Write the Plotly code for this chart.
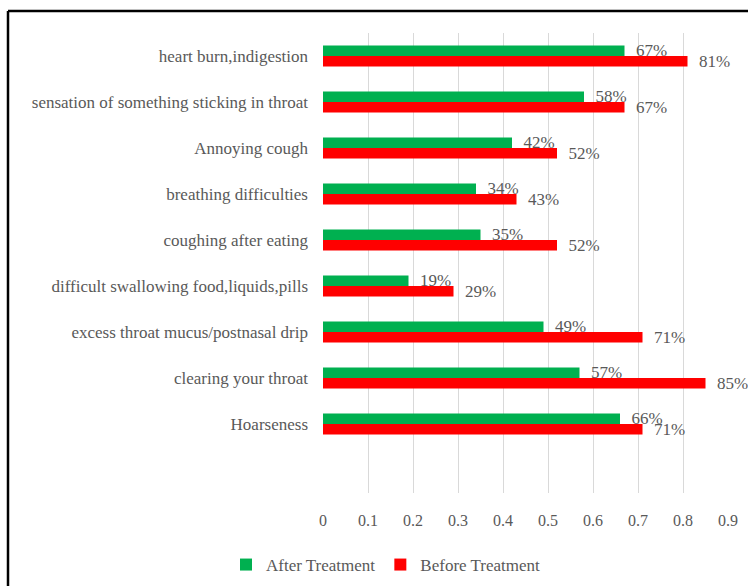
import plotly.graph_objects as go

# Symptom categories, listed top to bottom
symptoms = [
    "heart burn,indigestion",
    "sensation of something sticking in throat",
    "Annoying cough",
    "breathing difficulties",
    "coughing after eating",
    "difficult swallowing food,liquids,pills",
    "excess throat mucus/postnasal drip",
    "clearing your throat",
    "Hoarseness",
]
after_treatment = [0.67, 0.58, 0.42, 0.34, 0.35, 0.19, 0.49, 0.57, 0.66]
before_treatment = [0.81, 0.67, 0.52, 0.43, 0.52, 0.29, 0.71, 0.85, 0.71]
x_ticks = [0, 0.1, 0.2, 0.3, 0.4, 0.5, 0.6, 0.7, 0.8, 0.9]

GREEN = "#00B050"
RED = "#FF0000"
TEXT = "#595959"
FONT = "Liberation Serif"

W, H = 748, 586
ML, MR, MT, MB = 323, 20, 33, 93
PW, PH = W - ML - MR, H - MT - MB


def pct(values):
    return ["\u00a0\u00a0" + f"{round(v * 100)}%" for v in values]


def px_to_paper_x(px):
    return (px - ML) / PW


def px_to_paper_y(py):
    return (H - MB - py) / PH


fig = go.Figure()
fig.add_trace(go.Bar(
    name="After Treatment", y=symptoms, x=after_treatment, orientation="h",
    marker=dict(color=GREEN, line=dict(width=0)),
    text=pct(after_treatment), textposition="outside", constraintext="none",
    cliponaxis=False, textfont=dict(family=FONT, size=17, color=TEXT),
))
fig.add_trace(go.Bar(
    name="Before Treatment", y=symptoms, x=before_treatment, orientation="h",
    marker=dict(color=RED, line=dict(width=0)),
    text=pct(before_treatment), textposition="outside", constraintext="none",
    cliponaxis=False, textfont=dict(family=FONT, size=17, color=TEXT),
))

# Outer frame of the chart area (top and left edges)
frame_x = px_to_paper_x(8)
frame_y = px_to_paper_y(11)
fig.add_shape(type="line", xref="paper", yref="paper",
              x0=frame_x, x1=px_to_paper_x(W + 20), y0=frame_y, y1=frame_y,
              line=dict(color="black", width=2.5))
fig.add_shape(type="line", xref="paper", yref="paper",
              x0=frame_x, x1=frame_x, y0=frame_y, y1=px_to_paper_y(H + 20),
              line=dict(color="black", width=2.5))

fig.update_layout(
    width=W, height=H,
    margin=dict(l=ML, r=MR, t=MT, b=MB, autoexpand=False),
    paper_bgcolor="white", plot_bgcolor="white",
    barmode="group", bargap=0.54, bargroupgap=0,
    font=dict(family=FONT, size=17, color=TEXT),
    showlegend=True,
    legend=dict(
        orientation="h", x=px_to_paper_x(386), xanchor="center",
        y=px_to_paper_y(565), yanchor="middle",
        font=dict(family=FONT, size=17, color=TEXT),
        itemwidth=30,
    ),
    xaxis=dict(
        range=[0, 0.9], tickvals=x_ticks, ticktext=[str(t) for t in x_ticks],
        showgrid=True, gridcolor="#D9D9D9", gridwidth=1,
        zeroline=False, showline=False, ticks="",
        ticklabelstandoff=16,
        tickfont=dict(family=FONT, size=16, color=TEXT),
    ),
    yaxis=dict(
        type="category", range=[9.5, -0.5],
        showgrid=False, zeroline=False, showline=False, ticks="",
        ticklabelstandoff=14,
        tickfont=dict(family=FONT, size=17, color=TEXT),
    ),
)

fig.write_html("out.html")
